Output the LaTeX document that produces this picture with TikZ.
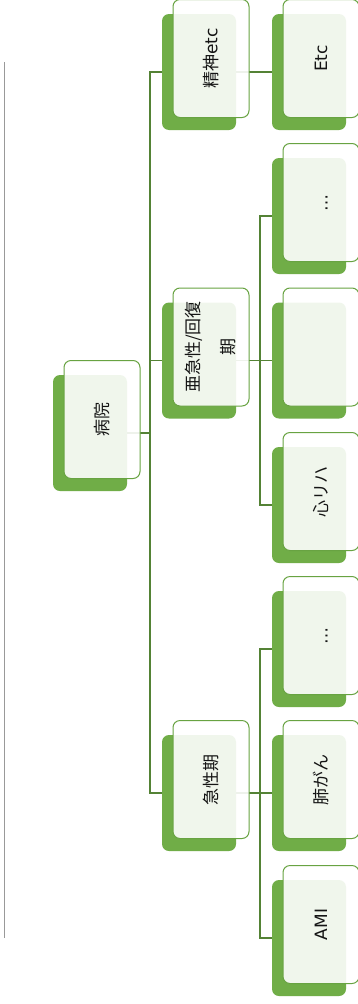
\documentclass[tikz,border=0pt]{standalone}
\usepackage{fontspec}
\setmainfont{DejaVu Sans}
\newfontfamily\jp{Noto Sans CJK JP}
\usetikzlibrary{calc}
\definecolor{gfill}{RGB}{112,173,71}
\definecolor{gline}{RGB}{104,163,66}
\definecolor{cline}{RGB}{84,130,53}
\definecolor{txt}{RGB}{20,20,20}
\tikzset{
  gbox/.style={rectangle, rounded corners=7pt, fill=gfill, minimum width=74pt, minimum height=116pt, inner sep=0pt},
  obox/.style={rectangle, rounded corners=7pt, draw=gline, line width=1pt, fill=white, fill opacity=0.9, minimum width=76pt, minimum height=118pt, inner sep=0pt},
  lbl/.style={rotate=90, font=\fontsize{17}{20}\selectfont, text=txt, align=center, inner sep=0pt},
  conn/.style={draw=cline, line width=1.5pt},
  rule/.style={draw=gray!80, line width=1pt}
}
\newcommand\topbox[2]{%
  \node[obox] (#1o) at ($(#1)+(12,-13.5)$) {};
  \node[lbl] (#1t) at (#1o) {#2};}
\newcommand\dotbox[1]{%
  \node[obox] (#1o) at ($(#1)+(12,-13.5)$) {};
  \node[lbl] (#1t) at ($(#1o)+(5.5,0)$) {…};}
\begin{document}
\begin{tikzpicture}[x=1pt,y=-1pt]
\fill[white] (0,0) rectangle (358,1004);
\useasboundingbox (0,0) rectangle (358,1004);
% left rule
\coordinate (r1) at (4,62);
\coordinate (r2) at (4,938);
\draw[rule] (r1) -- (r2);
% back boxes
\node[gbox] (root) at (90,433) {};
\node[gbox] (sei) at (199,72) {};
\node[gbox] (aky) at (199,360.5) {};
\node[gbox] (kyu) at (199,793) {};
\node[gbox] (etc) at (309,72) {};
\node[gbox] (a1) at (309,216) {};
\node[gbox] (a2) at (309,360.5) {};
\node[gbox] (a3) at (309,505) {};
\node[gbox] (k1) at (309,649) {};
\node[gbox] (k2) at (309,793) {};
\node[gbox] (k3) at (309,938) {};
% connectors
\foreach \c in {sei,aky,kyu} \draw[conn] (root.east) -- ++(23,0) |- (\c.west);
\draw[conn] (sei.east) -- (etc.west);
\foreach \c in {a1,a2,a3} \draw[conn] (aky.east) -- ++(24,0) |- (\c.west);
\foreach \c in {k1,k2,k3} \draw[conn] (kyu.east) -- ++(24,0) |- (\c.west);
% front boxes and labels
\topbox{root}{{\jp 病院}}
\topbox{sei}{{\jp 精神}etc}
\topbox{aky}{{\jp 亜急性/回復}\\[15pt]{\jp 期}}
\topbox{kyu}{{\jp 急性期}}
\topbox{etc}{Etc}
\dotbox{a1}
\topbox{a2}{}
\topbox{a3}{{\jp 心リハ}}
\dotbox{k1}
\topbox{k2}{{\jp 肺がん}}
\topbox{k3}{AMI}
\end{tikzpicture}
\end{document}
